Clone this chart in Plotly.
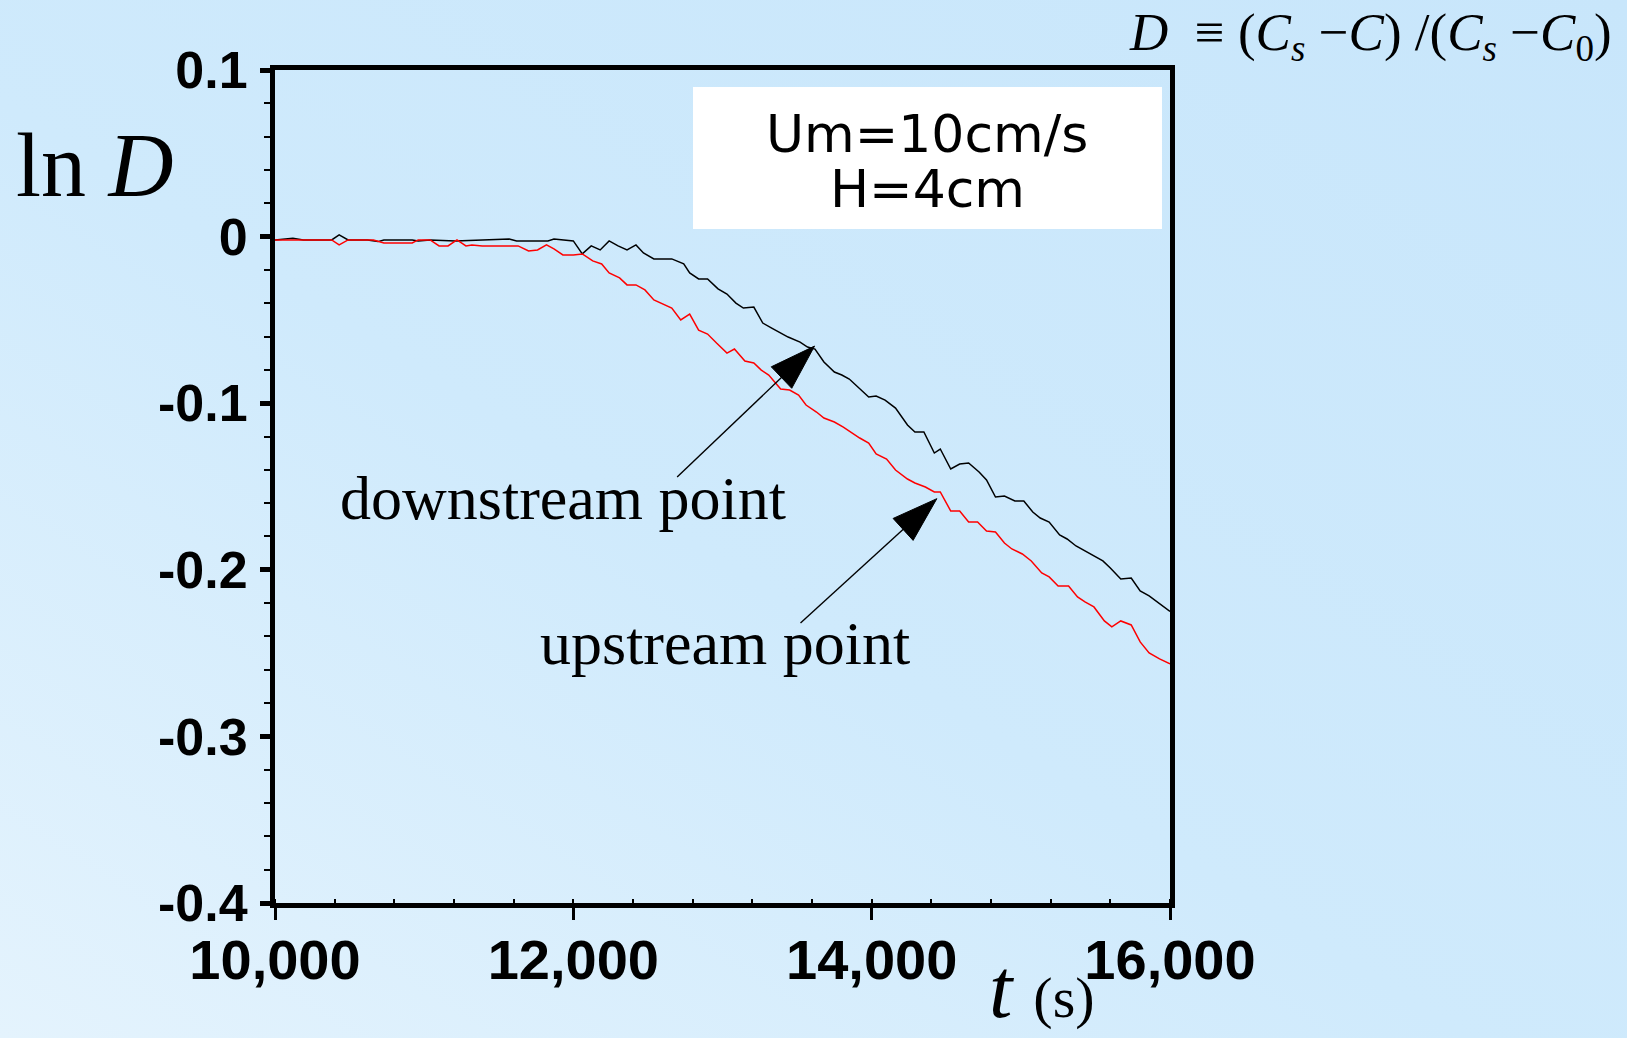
import base64
import plotly.graph_objects as go

# ---------------- data ----------------
t_down = [10000, 10120, 10190, 10380, 10430, 10490, 10620, 10690, 10730, 10920,
          10960, 11040, 11210, 11570, 11620, 11830, 11870, 12000, 12060, 12120,
          12180, 12240, 12300, 12360, 12420, 12470, 12540, 12660, 12740, 12780,
          12840, 12900, 12970, 13030, 13090, 13140, 13210, 13270, 13330, 13390,
          13440, 13520, 13570, 13620, 13680, 13750, 13800, 13850, 13910, 13980,
          14030, 14090, 14160, 14240, 14290, 14350, 14420, 14460, 14530, 14590,
          14650, 14720, 14770, 14830, 14890, 14960, 15020, 15080, 15130, 15190,
          15260, 15310, 15370, 15430, 15490, 15550, 15600, 15670, 15740, 15800,
          15860, 15920, 16000]
lnD_down = [-0.002, -0.001, -0.002, -0.002, 0.001, -0.002, -0.002, -0.003, -0.002, -0.002,
            -0.0026, -0.002, -0.0026, -0.0014, -0.0026, -0.0026, -0.0014, -0.0026, -0.0104, -0.0056,
            -0.008, -0.0026, -0.0056, -0.008, -0.005, -0.0098, -0.0134, -0.0134, -0.0164, -0.0218,
            -0.0254, -0.0254, -0.0314, -0.0345, -0.0399, -0.0429, -0.0423, -0.0519, -0.0549, -0.0579,
            -0.0603, -0.0633, -0.0663, -0.0675, -0.0753, -0.0813, -0.0831, -0.0855, -0.0903, -0.0963,
            -0.0957, -0.0981, -0.1029, -0.1131, -0.1173, -0.1173, -0.1299, -0.1275, -0.1395, -0.1365,
            -0.1359, -0.1413, -0.1461, -0.1563, -0.1557, -0.1587, -0.1587, -0.1653, -0.1689, -0.1713,
            -0.1791, -0.1815, -0.1857, -0.1887, -0.1917, -0.1947, -0.1989, -0.2055, -0.2049, -0.2127,
            -0.2157, -0.2199, -0.2250]

t_up = [10000, 10380, 10430, 10490, 10660, 10730, 10920, 10960, 11040, 11100,
        11160, 11220, 11280, 11320, 11390, 11630, 11700, 11760, 11820, 11870,
        11930, 12000, 12060, 12130, 12190, 12240, 12310, 12360, 12420, 12480,
        12540, 12600, 12660, 12720, 12780, 12840, 12900, 12960, 13030, 13080,
        13150, 13210, 13260, 13310, 13390, 13450, 13510, 13560, 13630, 13680,
        13750, 13810, 13870, 13920, 13980, 14030, 14100, 14160, 14240, 14290,
        14360, 14420, 14460, 14530, 14590, 14650, 14710, 14770, 14830, 14890,
        14940, 15010, 15070, 15140, 15190, 15250, 15320, 15380, 15430, 15490,
        15560, 15610, 15670, 15740, 15800, 15860, 15930, 16000]
lnD_up = [-0.002, -0.002, -0.005, -0.002, -0.002, -0.0038, -0.0038, -0.002, -0.002, -0.0056,
          -0.0056, -0.002, -0.0056, -0.005, -0.0056, -0.0056, -0.0086, -0.008, -0.005, -0.0074,
          -0.011, -0.011, -0.0104, -0.0146, -0.0164, -0.0218, -0.0248, -0.029, -0.029, -0.032,
          -0.038, -0.0405, -0.0429, -0.050, -0.0465, -0.0561, -0.0585, -0.0639, -0.0699, -0.0675,
          -0.0747, -0.0759, -0.0801, -0.0831, -0.0915, -0.0921, -0.0951, -0.1011, -0.1053, -0.1089,
          -0.1113, -0.1143, -0.1179, -0.1209, -0.1239, -0.1305, -0.1335, -0.1401, -0.1455, -0.1479,
          -0.1503, -0.1533, -0.1533, -0.1647, -0.1647, -0.1713, -0.1713, -0.1767, -0.1773, -0.1839,
          -0.1875, -0.1905, -0.1947, -0.2019, -0.2043, -0.2097, -0.2097, -0.2163, -0.2193, -0.2223,
          -0.2307, -0.2343, -0.2307, -0.2331, -0.2433, -0.2499, -0.2535, -0.2565]

x_tickvals = [10000, 12000, 14000, 16000]
x_ticktext = ["10,000", "12,000", "14,000", "16,000"]
y_tickvals = [0.1, 0.0, -0.1, -0.2, -0.3, -0.4]
y_ticktext = ["0.1", "0", "-0.1", "-0.2", "-0.3", "-0.4"]

# annotation arrows: (tail, tip) in data units
arrow_down_t = [12696, 13617]
arrow_down_v = [-0.1443, -0.0657]
arrow_up_t = [13523, 14437]
arrow_up_v = [-0.2319, -0.1573]

label_down = "downstream point"
label_up = "upstream point"
box_lines = ["Um=10cm/s", "H=4cm"]

# ---------------- figure ----------------
W, H = 1627, 1038
L, R, T, B = 275, 457, 70, 135
PW, PH = W - L - R, H - T - B


def px(xp):
    return (xp - L) / PW


def py(yp):
    return (H - B - yp) / PH


fig = go.Figure()
fig.add_trace(go.Scatter(x=t_down, y=lnD_down, mode="lines",
                         line=dict(color="black", width=1.5), hoverinfo="skip"))
fig.add_trace(go.Scatter(x=t_up, y=lnD_up, mode="lines",
                         line=dict(color="#ff0000", width=1.5), hoverinfo="skip"))

for ax_t, ax_v in [(arrow_down_t, arrow_down_v), (arrow_up_t, arrow_up_v)]:
    fig.add_trace(go.Scatter(
        x=ax_t, y=ax_v, mode="lines+markers",
        line=dict(color="#000000", width=1.4),
        marker=dict(symbol=["circle", "arrow"], size=[0, 48], color="#000000",
                    opacity=1, angleref="previous",
                    line=dict(width=1, color="#000000")),
        hoverinfo="skip", cliponaxis=False))

svg = ("<svg xmlns='http://www.w3.org/2000/svg' width='1627' height='1038'>"
       "<defs><linearGradient id='g' x1='0' y1='1' x2='1' y2='0'>"
       "<stop offset='0' stop-color='#e4f3fd'/>"
       "<stop offset='0.45' stop-color='#cfeafc'/>"
       "<stop offset='1' stop-color='#c8e6fb'/>"
       "</linearGradient></defs>"
       "<rect width='1627' height='1038' fill='url(#g)'/></svg>")
src = "data:image/svg+xml;base64," + base64.b64encode(svg.encode()).decode()

serif = "Liberation Serif, Times New Roman, serif"

annotations = [
    dict(text="ln <i>D</i>", xref="paper", yref="paper", x=px(14), y=py(165),
         xanchor="left", yanchor="middle", showarrow=False,
         font=dict(family=serif, size=90, color="black")),
    dict(text="<i>D</i>  ≡ (<i>C</i><sub><i>s</i></sub> −<i>C</i>) /(<i>C</i><sub><i>s</i></sub> −<i>C</i><sub>0</sub>)",
         xref="paper", yref="paper", x=px(1614), y=py(1),
         xanchor="right", yanchor="top", showarrow=False,
         font=dict(family=serif, size=53, color="black")),
    dict(text="<i>t</i> <span style='font-size:58px'>(s)</span>", xref="paper", yref="paper",
         x=px(987), y=py(1037), xanchor="left", yanchor="bottom", showarrow=False,
         font=dict(family=serif, size=84, color="black")),
    dict(text=label_down, xref="paper", yref="paper", x=px(338), y=py(498),
         xanchor="left", yanchor="middle", showarrow=False,
         font=dict(family=serif, size=62, color="black")),
    dict(text=label_up, xref="paper", yref="paper", x=px(538), y=py(643),
         xanchor="left", yanchor="middle", showarrow=False,
         font=dict(family=serif, size=62, color="black")),
    dict(text=box_lines[0], xref="paper", yref="paper", x=px(927), y=py(134),
         xanchor="center", yanchor="middle", showarrow=False,
         font=dict(family="DejaVu Sans", size=52, color="black")),
    dict(text=box_lines[1], xref="paper", yref="paper", x=px(927), y=py(189),
         xanchor="center", yanchor="middle", showarrow=False,
         font=dict(family="DejaVu Sans", size=52, color="black")),
]

fig.update_layout(
    width=W, height=H,
    margin=dict(l=L, r=R, t=T, b=B, autoexpand=False),
    paper_bgcolor="#d4edfc",
    plot_bgcolor="rgba(0,0,0,0)",
    showlegend=False,
    hovermode=False,
    images=[dict(source=src, xref="paper", yref="paper",
                 x=px(0), y=py(0), sizex=W / PW, sizey=H / PH,
                 xanchor="left", yanchor="top", sizing="stretch", layer="below")],
    shapes=[dict(type="rect", xref="paper", yref="paper",
                 x0=px(693), x1=px(1162), y0=py(229), y1=py(87),
                 fillcolor="white", line=dict(width=0), layer="below")],
    annotations=annotations,
)

tickfont_bold = dict(family="Liberation Sans, Arial, sans-serif", color="black", weight="bold")

fig.update_xaxes(
    range=[10000, 16000], tickmode="array", tickvals=x_tickvals, ticktext=x_ticktext,
    showgrid=False, zeroline=False, showline=True, linewidth=5, linecolor="black",
    mirror=True, ticks="outside", ticklen=12, tickwidth=3, tickcolor="black",
    minor=dict(dtick=400, tick0=10000, ticks="inside", ticklen=4, tickwidth=1.5,
               tickcolor="black", showgrid=False),
    tickfont=dict(size=56, **tickfont_bold), ticklabelstandoff=-8, automargin=False,
)
fig.update_yaxes(
    range=[-0.4, 0.1], tickmode="array", tickvals=y_tickvals, ticktext=y_ticktext,
    showgrid=False, zeroline=False, showline=True, linewidth=5, linecolor="black",
    mirror=True, ticks="outside", ticklen=10, tickwidth=5, tickcolor="black",
    minor=dict(dtick=0.02, tick0=0, ticks="outside", ticklen=6, tickwidth=1.5,
               tickcolor="black", showgrid=False),
    tickfont=dict(size=52, **tickfont_bold), ticklabelstandoff=2, automargin=False,
)

fig.write_html("out.html")
